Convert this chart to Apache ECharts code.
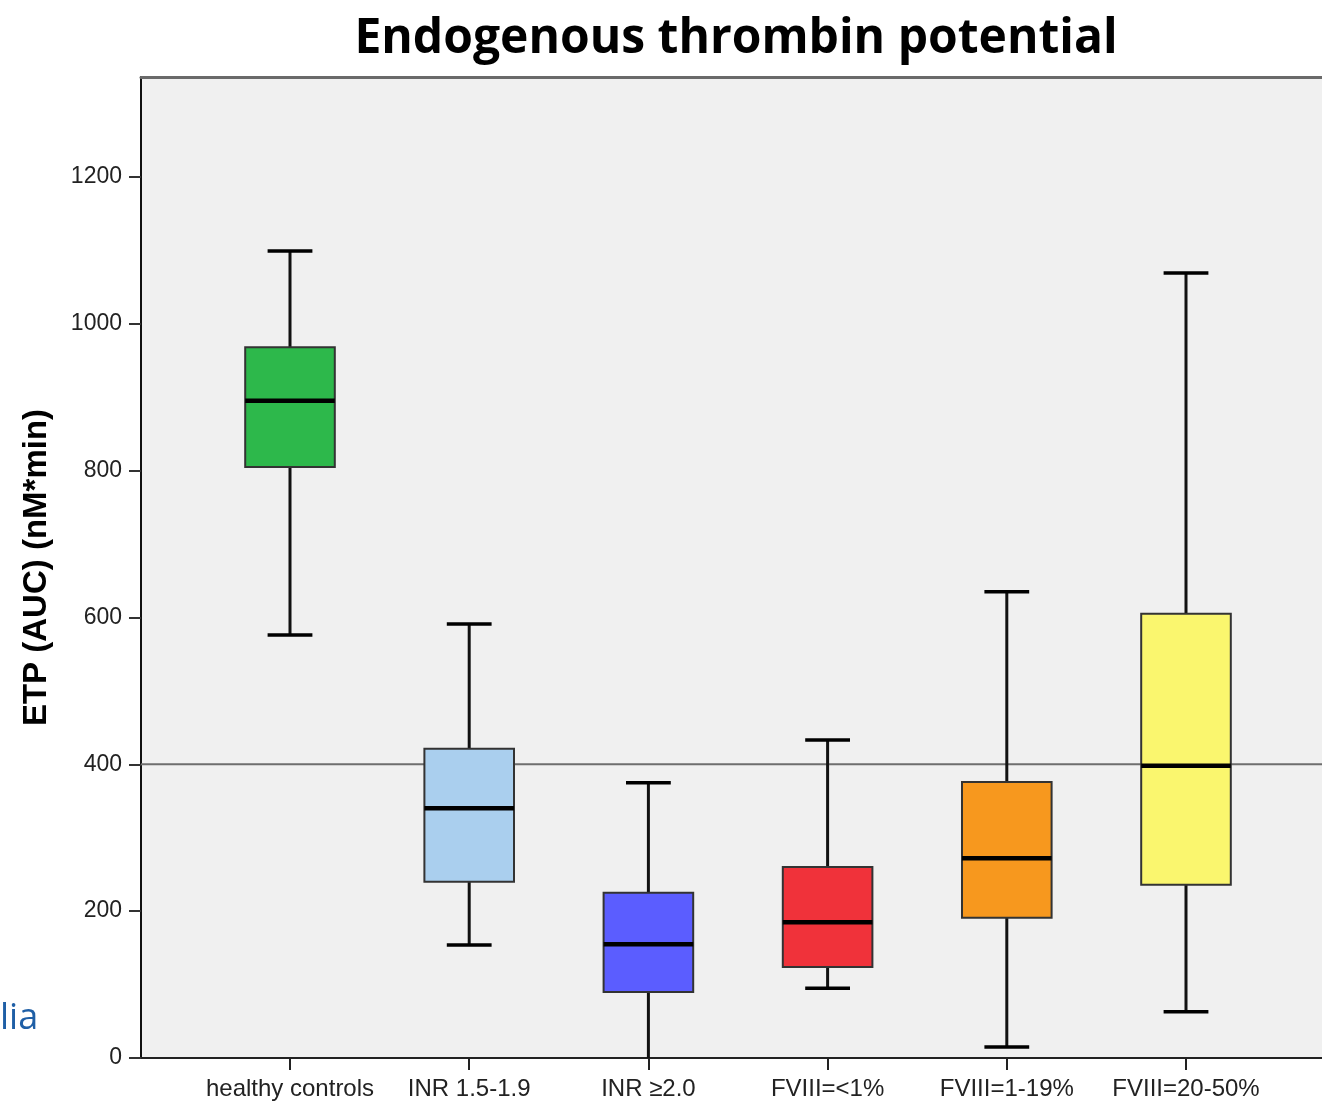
<!DOCTYPE html>
<html>
<head>
<meta charset="utf-8">
<script src="https://cdn.jsdelivr.net/npm/echarts@6/dist/echarts.min.js"></script>
<style>
html,body{margin:0;padding:0;background:#fff;}
#c{width:1322px;height:1102px;}
</style>
</head>
<body>
<div id="c"></div>
<script>
const categories = ['healthy controls', 'INR 1.5-1.9', 'INR \u22652.0', 'FVIII=<1%', 'FVIII=1-19%', 'FVIII=20-50%'];
// [low whisker, Q1, median, Q3, high whisker]
const lowWhisker = [576, 154, 0, 95, 15, 63];
const q1Values = [805, 240, 90, 124, 191, 236];
const medians = [895, 340, 155, 185, 272, 398];
const q3Values = [968, 421, 225, 260, 376, 605];
const highWhisker = [1099, 591, 375, 433, 635, 1069];
const boxColors = ['#2db84b', '#aacfee', '#5b5dff', '#f0323a', '#f7981e', '#faf66e'];
const referenceValue = 400;
const yTicks = [0, 200, 400, 600, 800, 1000, 1200];
const yMin = 0;
const yMax = 1336;

const boxData = categories.map((c, i) => ({
  value: [i, lowWhisker[i], q1Values[i], medians[i], q3Values[i], highWhisker[i]]
}));

const chart = echarts.init(document.getElementById('c'));

function renderBox(params, api) {
  const idx = api.value(0);
  const band = api.size([1, 0])[0];
  const half = band * 0.25;
  const capHalf = band * 0.125;
  const lowV = api.value(1);
  const pLow = api.coord([idx, lowV]);
  const pQ1 = api.coord([idx, api.value(2)]);
  const pMed = api.coord([idx, api.value(3)]);
  const pQ3 = api.coord([idx, api.value(4)]);
  const pHigh = api.coord([idx, api.value(5)]);
  const x = pMed[0];
  const color = boxColors[idx];
  const children = [
    { type: 'line', shape: { x1: x, y1: pQ3[1], x2: x, y2: pHigh[1] }, style: { stroke: '#111', lineWidth: 3 } },
    { type: 'line', shape: { x1: x, y1: pQ1[1], x2: x, y2: pLow[1] }, style: { stroke: '#111', lineWidth: 3 } },
    { type: 'line', shape: { x1: x - capHalf, y1: pHigh[1], x2: x + capHalf, y2: pHigh[1] }, style: { stroke: '#000', lineWidth: 3.5 } }
  ];
  if (lowV > yMin) {
    children.push({ type: 'line', shape: { x1: x - capHalf, y1: pLow[1], x2: x + capHalf, y2: pLow[1] }, style: { stroke: '#000', lineWidth: 3.5 } });
  }
  children.push(
    { type: 'rect', shape: { x: x - half, y: pQ3[1], width: half * 2, height: pQ1[1] - pQ3[1] }, style: { fill: color, stroke: '#333', lineWidth: 2 } },
    { type: 'line', shape: { x1: x - half, y1: pMed[1], x2: x + half, y2: pMed[1] }, style: { stroke: '#000', lineWidth: 4.5 } }
  );
  return { type: 'group', children: children };
}

const option = {
  animation: false,
  backgroundColor: '#ffffff',
  title: {
    text: 'Endogenous thrombin potential',
    left: 731,
    textAlign: 'center',
    top: 10,
    textStyle: { fontFamily: 'Open Sans', fontWeight: 'bold', fontSize: 48, color: '#000' }
  },
  graphic: [
    { type: 'text', left: 0, top: 1001, style: { text: 'lia', fontFamily: 'Open Sans', fontSize: 36, fill: '#1f5fa6' } }
  ],
  grid: [
    { left: 141, right: 0, top: 77, bottom: 44, show: true, backgroundColor: '#f0f0f0', borderWidth: 0 },
    { left: 200.4, width: 1075.2, top: 77, bottom: 44 }
  ],
  xAxis: [
    { type: 'value', gridIndex: 0, min: 0, max: 1, position: 'bottom',
      axisLine: { show: true, onZero: false, lineStyle: { color: '#222', width: 2 } },
      axisTick: { show: false }, axisLabel: { show: false }, splitLine: { show: false } },
    { type: 'value', gridIndex: 0, min: 0, max: 1, position: 'top',
      axisLine: { show: true, onZero: false, lineStyle: { color: '#6a6a6a', width: 3 } },
      axisTick: { show: false }, axisLabel: { show: false }, splitLine: { show: false } },
    { type: 'category', gridIndex: 1, data: categories, boundaryGap: true,
      axisLine: { show: false },
      axisTick: { show: true, alignWithLabel: true, length: 12, lineStyle: { color: '#222', width: 2 } },
      axisLabel: { interval: 0, margin: 19, fontFamily: 'Liberation Sans', fontSize: 24, color: '#222' },
      splitLine: { show: false } }
  ],
  yAxis: [
    { type: 'value', gridIndex: 0, min: yMin, max: yMax, interval: 200,
      name: 'ETP (AUC) (nM*min)', nameLocation: 'middle', nameGap: 88,
      nameTextStyle: { fontFamily: 'Liberation Sans', fontWeight: 'bold', fontSize: 33, color: '#000' },
      axisLine: { show: true, onZero: false, lineStyle: { color: '#111', width: 2 } },
      axisTick: { show: true, length: 12, customValues: yTicks, lineStyle: { color: '#333', width: 2 } },
      axisLabel: { margin: 19, customValues: yTicks, formatter: v => String(v),
        fontFamily: 'Liberation Sans', fontSize: 23, color: '#222' },
      splitLine: { show: false } },
    { type: 'value', gridIndex: 1, min: yMin, max: yMax, show: false }
  ],
  series: [
    { type: 'line', xAxisIndex: 0, yAxisIndex: 0, data: [[0, referenceValue], [1, referenceValue]],
      symbol: 'none', lineStyle: { color: '#6e6e6e', width: 2 }, silent: true, z: 1 },
    { type: 'custom', xAxisIndex: 2, yAxisIndex: 1, renderItem: renderBox, data: boxData, z: 3,
      clip: false }
  ]
};
chart.setOption(option);
</script>
</body>
</html>
